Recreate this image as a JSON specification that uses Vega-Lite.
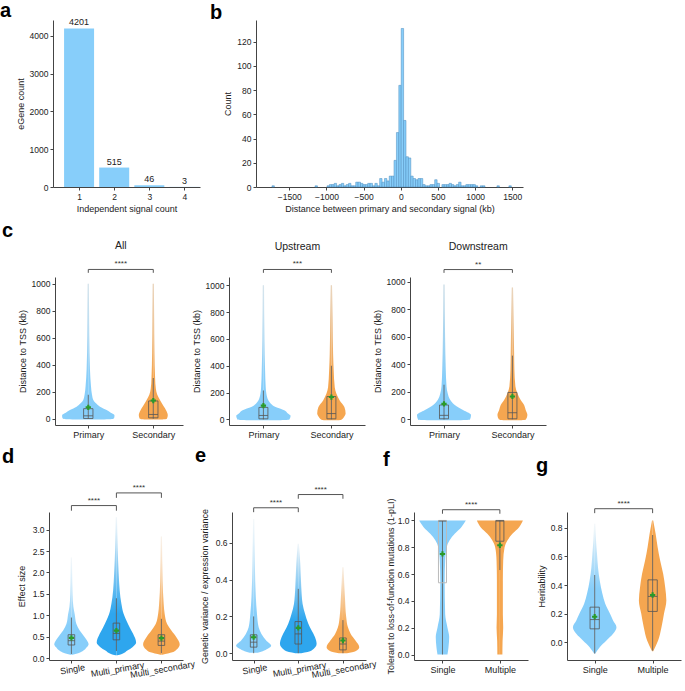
{
"$schema":"https://vega.github.io/schema/vega-lite/v6.json",
"background":"white",
"padding":{"left":0,"top":1,"right":5,"bottom":5},
"config":{
 "font":"Liberation Sans",
 "view":{"stroke":null},
 "axis":{"grid":false,"domainColor":"#444","tickColor":"#444","labelColor":"#222","titleColor":"#222","labelFontSize":8.5,"titleFontSize":9,"titleFontWeight":"normal","tickSize":3,"labelPadding":2,"titlePadding":4,"labelOverlap":false,"labelFlush":false},
 "title":{"fontSize":20,"fontWeight":"bold","anchor":"start","frame":"group","color":"#000","baseline":"alphabetic"}
},
"datasets":{
 "bars":[{"n":1,"count":4201},{"n":2,"count":515},{"n":3,"count":46},{"n":4,"count":3}],
 "hist":[{"s":-1740,"n":1},{"s":-1160.4,"n":1},{"s":-999.4,"n":1},{"s":-967.2,"n":2},{"s":-935,"n":2},{"s":-902.8,"n":3},{"s":-870.6,"n":1},{"s":-838.4,"n":2},{"s":-806.2,"n":3},{"s":-774,"n":1},{"s":-741.8,"n":2},{"s":-709.6,"n":3},{"s":-677.4,"n":1},{"s":-645.2,"n":1},{"s":-613,"n":4},{"s":-580.8,"n":4},{"s":-548.6,"n":3},{"s":-516.4,"n":2},{"s":-484.2,"n":2},{"s":-452,"n":3},{"s":-419.8,"n":3},{"s":-387.6,"n":1},{"s":-355.4,"n":3},{"s":-323.2,"n":1},{"s":-291,"n":7},{"s":-258.8,"n":4},{"s":-226.6,"n":7},{"s":-194.4,"n":5},{"s":-162.2,"n":9},{"s":-130,"n":9},{"s":-97.8,"n":22},{"s":-65.6,"n":45},{"s":-33.4,"n":84},{"s":-1.2,"n":131},{"s":31,"n":55},{"s":63.2,"n":25},{"s":95.4,"n":24},{"s":127.6,"n":9},{"s":159.8,"n":7},{"s":192,"n":6},{"s":224.2,"n":7},{"s":256.4,"n":7},{"s":288.6,"n":2},{"s":320.8,"n":1},{"s":353,"n":1},{"s":385.2,"n":2},{"s":417.4,"n":2},{"s":449.6,"n":6},{"s":481.8,"n":3},{"s":546.2,"n":2},{"s":578.4,"n":2},{"s":610.6,"n":2},{"s":642.8,"n":3},{"s":675,"n":2},{"s":707.2,"n":1},{"s":739.4,"n":2},{"s":771.6,"n":4},{"s":803.8,"n":1},{"s":836,"n":1},{"s":868.2,"n":2},{"s":900.4,"n":2},{"s":932.6,"n":2},{"s":964.8,"n":2},{"s":997,"n":1},{"s":1061.4,"n":1},{"s":1093.6,"n":1},{"s":1286.8,"n":1},{"s":1447.8,"n":1}],
 "vio":[
  {"p":"c1","c":0,"v":-6,"w":0.154},{"p":"c1","c":0,"v":-4,"w":0.308},{"p":"c1","c":0,"v":0,"w":0.385},{"p":"c1","c":0,"v":10,"w":0.4},{"p":"c1","c":0,"v":27,"w":0.403},{"p":"c1","c":0,"v":45,"w":0.346},{"p":"c1","c":0,"v":65,"w":0.282},{"p":"c1","c":0,"v":90,"w":0.18},{"p":"c1","c":0,"v":115,"w":0.118},{"p":"c1","c":0,"v":140,"w":0.077},{"p":"c1","c":0,"v":178,"w":0.057},{"p":"c1","c":0,"v":240,"w":0.042},{"p":"c1","c":0,"v":365,"w":0.026},{"p":"c1","c":0,"v":615,"w":0.015},{"p":"c1","c":0,"v":800,"w":0.012},{"p":"c1","c":0,"v":1000,"w":0.009},
  {"p":"c1","c":1,"v":-6,"w":0.108},{"p":"c1","c":1,"v":-4,"w":0.169},{"p":"c1","c":1,"v":0,"w":0.208},{"p":"c1","c":1,"v":27,"w":0.223},{"p":"c1","c":1,"v":60,"w":0.2},{"p":"c1","c":1,"v":95,"w":0.157},{"p":"c1","c":1,"v":125,"w":0.12},{"p":"c1","c":1,"v":150,"w":0.09},{"p":"c1","c":1,"v":180,"w":0.06},{"p":"c1","c":1,"v":220,"w":0.04},{"p":"c1","c":1,"v":300,"w":0.028},{"p":"c1","c":1,"v":490,"w":0.018},{"p":"c1","c":1,"v":750,"w":0.013},{"p":"c1","c":1,"v":1000,"w":0.009},
  {"p":"c2","c":0,"v":-6,"w":0.162},{"p":"c2","c":0,"v":-4,"w":0.309},{"p":"c2","c":0,"v":0,"w":0.382},{"p":"c2","c":0,"v":27,"w":0.4},{"p":"c2","c":0,"v":45,"w":0.36},{"p":"c2","c":0,"v":69,"w":0.306},{"p":"c2","c":0,"v":93,"w":0.179},{"p":"c2","c":0,"v":118,"w":0.11},{"p":"c2","c":0,"v":142,"w":0.074},{"p":"c2","c":0,"v":191,"w":0.044},{"p":"c2","c":0,"v":240,"w":0.034},{"p":"c2","c":0,"v":363,"w":0.025},{"p":"c2","c":0,"v":600,"w":0.015},{"p":"c2","c":0,"v":1000,"w":0.009},
  {"p":"c2","c":1,"v":-6,"w":0.088},{"p":"c2","c":1,"v":-4,"w":0.132},{"p":"c2","c":1,"v":0,"w":0.151},{"p":"c2","c":1,"v":20,"w":0.187},{"p":"c2","c":1,"v":44,"w":0.209},{"p":"c2","c":1,"v":93,"w":0.191},{"p":"c2","c":1,"v":142,"w":0.122},{"p":"c2","c":1,"v":191,"w":0.074},{"p":"c2","c":1,"v":240,"w":0.049},{"p":"c2","c":1,"v":363,"w":0.034},{"p":"c2","c":1,"v":485,"w":0.025},{"p":"c2","c":1,"v":730,"w":0.018},{"p":"c2","c":1,"v":1000,"w":0.009},
  {"p":"c3","c":0,"v":-6,"w":0.161},{"p":"c3","c":0,"v":-4,"w":0.307},{"p":"c3","c":0,"v":0,"w":0.38},{"p":"c3","c":0,"v":32,"w":0.395},{"p":"c3","c":0,"v":50,"w":0.351},{"p":"c3","c":0,"v":69,"w":0.278},{"p":"c3","c":0,"v":105,"w":0.158},{"p":"c3","c":0,"v":142,"w":0.092},{"p":"c3","c":0,"v":191,"w":0.054},{"p":"c3","c":0,"v":240,"w":0.037},{"p":"c3","c":0,"v":363,"w":0.026},{"p":"c3","c":0,"v":600,"w":0.016},{"p":"c3","c":0,"v":978,"w":0.009},
  {"p":"c3","c":1,"v":-6,"w":0.102},{"p":"c3","c":1,"v":-4,"w":0.161},{"p":"c3","c":1,"v":0,"w":0.197},{"p":"c3","c":1,"v":32,"w":0.219},{"p":"c3","c":1,"v":69,"w":0.194},{"p":"c3","c":1,"v":105,"w":0.171},{"p":"c3","c":1,"v":142,"w":0.121},{"p":"c3","c":1,"v":191,"w":0.073},{"p":"c3","c":1,"v":240,"w":0.044},{"p":"c3","c":1,"v":363,"w":0.029},{"p":"c3","c":1,"v":485,"w":0.025},{"p":"c3","c":1,"v":700,"w":0.018},{"p":"c3","c":1,"v":957,"w":0.009},
  {"p":"d","c":0,"v":0.085,"w":0.022},{"p":"d","c":0,"v":0.116,"w":0.149},{"p":"d","c":0,"v":0.18,"w":0.267},{"p":"d","c":0,"v":0.256,"w":0.34},{"p":"d","c":0,"v":0.33,"w":0.382},{"p":"d","c":0,"v":0.4,"w":0.356},{"p":"d","c":0,"v":0.49,"w":0.296},{"p":"d","c":0,"v":0.645,"w":0.184},{"p":"d","c":0,"v":0.8,"w":0.111},{"p":"d","c":0,"v":1.03,"w":0.073},{"p":"d","c":0,"v":1.2,"w":0.044},{"p":"d","c":0,"v":1.5,"w":0.025},{"p":"d","c":0,"v":2.0,"w":0.016},{"p":"d","c":0,"v":2.35,"w":0.013},
  {"p":"d","c":1,"v":0.07,"w":0.022},{"p":"d","c":1,"v":0.1,"w":0.122},{"p":"d","c":1,"v":0.18,"w":0.244},{"p":"d","c":1,"v":0.26,"w":0.356},{"p":"d","c":1,"v":0.37,"w":0.438},{"p":"d","c":1,"v":0.57,"w":0.371},{"p":"d","c":1,"v":0.72,"w":0.296},{"p":"d","c":1,"v":0.88,"w":0.222},{"p":"d","c":1,"v":1.03,"w":0.162},{"p":"d","c":1,"v":1.27,"w":0.111},{"p":"d","c":1,"v":1.58,"w":0.073},{"p":"d","c":1,"v":1.97,"w":0.051},{"p":"d","c":1,"v":2.59,"w":0.027},{"p":"d","c":1,"v":3.29,"w":0.013},
  {"p":"d","c":2,"v":0.085,"w":0.022},{"p":"d","c":2,"v":0.14,"w":0.244},{"p":"d","c":2,"v":0.2,"w":0.333},{"p":"d","c":2,"v":0.33,"w":0.407},{"p":"d","c":2,"v":0.49,"w":0.333},{"p":"d","c":2,"v":0.645,"w":0.222},{"p":"d","c":2,"v":0.8,"w":0.127},{"p":"d","c":2,"v":1.03,"w":0.073},{"p":"d","c":2,"v":1.27,"w":0.051},{"p":"d","c":2,"v":1.8,"w":0.027},{"p":"d","c":2,"v":2.84,"w":0.013},
  {"p":"e","c":0,"v":0.003,"w":0.09},{"p":"e","c":0,"v":0.011,"w":0.202},{"p":"e","c":0,"v":0.024,"w":0.315},{"p":"e","c":0,"v":0.04,"w":0.393},{"p":"e","c":0,"v":0.069,"w":0.281},{"p":"e","c":0,"v":0.105,"w":0.175},{"p":"e","c":0,"v":0.141,"w":0.112},{"p":"e","c":0,"v":0.214,"w":0.074},{"p":"e","c":0,"v":0.305,"w":0.049},{"p":"e","c":0,"v":0.486,"w":0.027},{"p":"e","c":0,"v":0.73,"w":0.013},
  {"p":"e","c":1,"v":0.0,"w":0.067},{"p":"e","c":1,"v":0.015,"w":0.299},{"p":"e","c":1,"v":0.051,"w":0.411},{"p":"e","c":1,"v":0.087,"w":0.375},{"p":"e","c":1,"v":0.123,"w":0.299},{"p":"e","c":1,"v":0.16,"w":0.225},{"p":"e","c":1,"v":0.214,"w":0.151},{"p":"e","c":1,"v":0.268,"w":0.097},{"p":"e","c":1,"v":0.359,"w":0.067},{"p":"e","c":1,"v":0.486,"w":0.045},{"p":"e","c":1,"v":0.595,"w":0.013},
  {"p":"e","c":2,"v":0.0,"w":0.09},{"p":"e","c":2,"v":0.011,"w":0.281},{"p":"e","c":2,"v":0.033,"w":0.366},{"p":"e","c":2,"v":0.069,"w":0.281},{"p":"e","c":2,"v":0.105,"w":0.175},{"p":"e","c":2,"v":0.141,"w":0.112},{"p":"e","c":2,"v":0.196,"w":0.074},{"p":"e","c":2,"v":0.305,"w":0.045},{"p":"e","c":2,"v":0.468,"w":0.013},
  {"p":"f","c":0,"v":0.0,"w":0.087},{"p":"f","c":0,"v":0.055,"w":0.105},{"p":"f","c":0,"v":0.13,"w":0.117},{"p":"f","c":0,"v":0.2,"w":0.087},{"p":"f","c":0,"v":0.3,"w":0.047},{"p":"f","c":0,"v":0.55,"w":0.038},{"p":"f","c":0,"v":0.7,"w":0.047},{"p":"f","c":0,"v":0.8,"w":0.073},{"p":"f","c":0,"v":0.85,"w":0.122},{"p":"f","c":0,"v":0.9,"w":0.213},{"p":"f","c":0,"v":0.95,"w":0.328},{"p":"f","c":0,"v":1.0,"w":0.407},
  {"p":"f","c":1,"v":0.0,"w":0.044},{"p":"f","c":1,"v":0.1,"w":0.047},{"p":"f","c":1,"v":0.2,"w":0.058},{"p":"f","c":1,"v":0.3,"w":0.052},{"p":"f","c":1,"v":0.55,"w":0.052},{"p":"f","c":1,"v":0.7,"w":0.058},{"p":"f","c":1,"v":0.8,"w":0.082},{"p":"f","c":1,"v":0.85,"w":0.131},{"p":"f","c":1,"v":0.9,"w":0.218},{"p":"f","c":1,"v":0.95,"w":0.335},{"p":"f","c":1,"v":1.0,"w":0.401},
  {"p":"g","c":0,"v":-0.08,"w":0.01},{"p":"g","c":0,"v":-0.035,"w":0.087},{"p":"g","c":0,"v":0.012,"w":0.203},{"p":"g","c":0,"v":0.058,"w":0.317},{"p":"g","c":0,"v":0.105,"w":0.376},{"p":"g","c":0,"v":0.152,"w":0.317},{"p":"g","c":0,"v":0.198,"w":0.265},{"p":"g","c":0,"v":0.268,"w":0.182},{"p":"g","c":0,"v":0.338,"w":0.133},{"p":"g","c":0,"v":0.431,"w":0.087},{"p":"g","c":0,"v":0.525,"w":0.057},{"p":"g","c":0,"v":0.618,"w":0.04},{"p":"g","c":0,"v":0.711,"w":0.023},{"p":"g","c":0,"v":0.828,"w":0.01},
  {"p":"g","c":1,"v":-0.063,"w":0.01},{"p":"g","c":1,"v":0.012,"w":0.095},{"p":"g","c":1,"v":0.105,"w":0.153},{"p":"g","c":1,"v":0.198,"w":0.196},{"p":"g","c":1,"v":0.291,"w":0.237},{"p":"g","c":1,"v":0.385,"w":0.217},{"p":"g","c":1,"v":0.478,"w":0.182},{"p":"g","c":1,"v":0.571,"w":0.13},{"p":"g","c":1,"v":0.665,"w":0.087},{"p":"g","c":1,"v":0.758,"w":0.052},{"p":"g","c":1,"v":0.851,"w":0.01}
 ],
 "st":[
  {"p":"c1","c":0,"q1":2,"md":22,"q3":75,"lo":0,"hi":178,"mn":85},
  {"p":"c1","c":1,"q1":7,"md":32,"q3":132,"lo":0,"hi":302,"mn":135},
  {"p":"c2","c":0,"q1":5,"md":30,"q3":90,"lo":0,"hi":216,"mn":103},
  {"p":"c2","c":1,"q1":5,"md":44,"q3":171,"lo":0,"hi":400,"mn":167},
  {"p":"c3","c":0,"q1":5,"md":30,"q3":105,"lo":0,"hi":252,"mn":113},
  {"p":"c3","c":1,"q1":5,"md":49,"q3":196,"lo":0,"hi":463,"mn":167},
  {"p":"d","c":0,"q1":0.31,"md":0.41,"q3":0.55,"lo":0.1,"hi":0.95,"mn":0.475},
  {"p":"d","c":1,"q1":0.43,"md":0.58,"q3":0.82,"lo":0.17,"hi":1.4,"mn":0.645},
  {"p":"d","c":2,"q1":0.3,"md":0.4,"q3":0.55,"lo":0.12,"hi":0.92,"mn":0.47},
  {"p":"e","c":0,"q1":0.033,"md":0.06,"q3":0.1,"lo":0.0,"hi":0.2,"mn":0.087},
  {"p":"e","c":1,"q1":0.05,"md":0.105,"q3":0.172,"lo":0.0,"hi":0.35,"mn":0.138},
  {"p":"e","c":2,"q1":0.018,"md":0.05,"q3":0.083,"lo":0.0,"hi":0.18,"mn":0.069},
  {"p":"f","c":0,"q1":0.535,"md":0.995,"q3":1.0,"lo":0.0,"hi":1.0,"mn":0.75},
  {"p":"f","c":1,"q1":0.845,"md":0.995,"q3":1.0,"lo":0.63,"hi":1.0,"mn":0.815},
  {"p":"g","c":0,"q1":0.093,"md":0.158,"q3":0.245,"lo":-0.08,"hi":0.47,"mn":0.178},
  {"p":"g","c":1,"q1":0.215,"md":0.32,"q3":0.436,"lo":-0.06,"hi":0.75,"mn":0.33}
 ]
},
"spacing":6,
"vconcat":[
{"hconcat":[
 {"width":4.7,"height":1,"data":{"values":[]},"mark":"point","encoding":{}},
 {"width":147,"height":167,"title":{"text":"a","dx":-53,"offset":-2.7},"data":{"name":"bars"},
  "encoding":{"x":{"field":"n","type":"quantitative","scale":{"domain":[0.4,4.3],"nice":false,"zero":false},"axis":{"values":[1,2,3,4],"format":"d","title":"Independent signal count"}},
   "y":{"field":"count","type":"quantitative","scale":{"domain":[0,4423],"nice":false},"axis":{"values":[0,1000,2000,3000,4000],"format":"d","title":"eGene count"}}},
  "layer":[
   {"mark":{"type":"bar","width":30,"color":"#87cefa"}},
   {"mark":{"type":"text","baseline":"bottom","dy":-1,"fontSize":9,"color":"#222"},"encoding":{"text":{"field":"count","type":"quantitative","format":"d"}}}
  ]},
 {"width":55.7,"height":1,"data":{"values":[]},"mark":"point","encoding":{}},
 {"width":267,"height":167,"title":{"text":"b","dx":-46,"offset":-2.7},"data":{"name":"hist"},
  "mark":{"type":"bar","color":"#87cefa","stroke":"#4b8bbd","strokeWidth":0.5,"binSpacing":0},
  "encoding":{"x":{"field":"s","type":"quantitative","bin":{"binned":true,"step":32.2},"scale":{"domain":[-1948,1644],"nice":false,"zero":false},"axis":{"values":[-1500,-1000,-500,0,500,1000,1500],"format":"d","title":"Distance between primary and secondary signal (kb)"}},
   "y":{"field":"n","type":"quantitative","scale":{"domain":[0,138],"nice":false},"axis":{"values":[0,20,40,60,80,100,120],"title":"Count"}}}}
],"spacing":0,"bounds":"flush"},
{"hconcat":[
 {"width":6.7,"height":1,"data":{"values":[]},"mark":"point","encoding":{}},
 {"width":128,"height":148,"title":{"text":"c","dx":-53,"offset":0.5},
  "resolve":{"scale":{"x":"independent"},"axis":{"x":"independent"}},
  "layer":[
   {"data":{"name":"vio"},"transform":[{"filter":"datum.p=='c1'&&datum.c==0"}],"mark":{"type":"area","orient":"horizontal","interpolate":"monotone","color":{"gradient":"linear","x1":0,"y1":1,"x2":0,"y2":0,"stops":[{"offset":0,"color":"#87cefa"},{"offset":0.3,"color":"#87cefa"},{"offset":1,"color":"#c9dbe5"}]}},
    "encoding":{"y":{"field":"v","type":"quantitative","scale":{"domain":[-46,1050],"nice":false,"zero":false},"axis":{"values":[0,200,400,600,800,1000],"tickCount":20,"format":"d","title":"Distance to TSS (kb)"}},"x":{"field":"w","type":"quantitative","stack":null,"scale":{"domain":[-1.457,0.512],"reverse":true,"nice":false,"zero":false},"axis":null}}},
   {"data":{"name":"vio"},"transform":[{"filter":"datum.p=='c1'&&datum.c==1"}],"mark":{"type":"area","orient":"horizontal","interpolate":"monotone","color":{"gradient":"linear","x1":0,"y1":1,"x2":0,"y2":0,"stops":[{"offset":0,"color":"#f5a650"},{"offset":0.3,"color":"#f5a650"},{"offset":1,"color":"#e2c7a8"}]}},
    "encoding":{"y":{"field":"v","type":"quantitative"},"x":{"field":"w","type":"quantitative","stack":null,"scale":{"domain":[-0.457,1.512],"reverse":true,"nice":false,"zero":false},"axis":null}}},
   {"layer":[
    {"data":{"name":"vio"},"transform":[{"filter":"datum.p=='c1'&&datum.c==0"}],"mark":{"type":"area","orient":"horizontal","interpolate":"monotone","color":{"gradient":"linear","x1":0,"y1":1,"x2":0,"y2":0,"stops":[{"offset":0,"color":"#87cefa"},{"offset":0.3,"color":"#87cefa"},{"offset":1,"color":"#c9dbe5"}]}},
     "encoding":{"y":{"field":"v","type":"quantitative"},"x":{"field":"w","type":"quantitative","stack":null,"scale":{"domain":[-0.512,1.457],"nice":false,"zero":false},"axis":{"values":[0,1],"labelExpr":"datum.value==0?'Primary':'Secondary'","labelFontSize":9,"title":null}}}},
    {"data":{"name":"st"},"transform":[{"filter":"datum.p=='c1'&&datum.c==0"}],"mark":{"type":"rule","color":"#555","strokeWidth":0.8},"encoding":{"x":{"datum":0},"y":{"field":"lo","type":"quantitative"},"y2":{"field":"hi"}}},
    {"data":{"name":"st"},"transform":[{"filter":"datum.p=='c1'&&datum.c==0"}],"mark":{"type":"rect","fill":"transparent","stroke":"#555","strokeWidth":0.8},"encoding":{"x":{"datum":-0.072},"x2":{"datum":0.072},"y":{"field":"q1","type":"quantitative"},"y2":{"field":"q3"}}},
    {"data":{"name":"st"},"transform":[{"filter":"datum.p=='c1'&&datum.c==0"}],"mark":{"type":"rule","color":"#555","strokeWidth":0.8},"encoding":{"x":{"datum":-0.072},"x2":{"datum":0.072},"y":{"field":"md","type":"quantitative"}}},
    {"data":{"name":"st"},"transform":[{"filter":"datum.p=='c1'&&datum.c==0"}],"mark":{"type":"point","shape":"cross","filled":true,"color":"#2a9a2a","size":28,"opacity":1},"encoding":{"x":{"datum":0},"y":{"field":"mn","type":"quantitative"}}},
    {"data":{"values":[{}]},"mark":{"type":"rule","color":"#555","strokeWidth":1},"encoding":{"x":{"datum":0},"x2":{"datum":1},"y":{"datum":1106}}},
    {"data":{"values":[{}]},"mark":{"type":"rule","color":"#555","strokeWidth":1},"encoding":{"x":{"datum":0},"y":{"datum":1106},"y2":{"datum":1081}}},
    {"data":{"values":[{}]},"mark":{"type":"rule","color":"#555","strokeWidth":1},"encoding":{"x":{"datum":1},"y":{"datum":1106},"y2":{"datum":1081}}},
    {"data":{"values":[{}]},"mark":{"type":"text","text":"****","fontSize":8,"baseline":"bottom","dy":-1,"color":"#333"},"encoding":{"x":{"datum":0.5},"y":{"datum":1106}}},
    {"data":{"values":[{}]},"mark":{"type":"text","text":"All","fontSize":10.5,"baseline":"middle","color":"#222"},"encoding":{"x":{"datum":0.5},"y":{"datum":1276}}}
   ]},
   {"layer":[
    {"data":{"name":"vio"},"transform":[{"filter":"datum.p=='c1'&&datum.c==1"}],"mark":{"type":"area","orient":"horizontal","interpolate":"monotone","color":{"gradient":"linear","x1":0,"y1":1,"x2":0,"y2":0,"stops":[{"offset":0,"color":"#f5a650"},{"offset":0.3,"color":"#f5a650"},{"offset":1,"color":"#e2c7a8"}]}},
     "encoding":{"y":{"field":"v","type":"quantitative"},"x":{"field":"w","type":"quantitative","stack":null,"scale":{"domain":[-1.512,0.457],"nice":false,"zero":false},"axis":null}}},
    {"data":{"name":"st"},"transform":[{"filter":"datum.p=='c1'&&datum.c==1"}],"mark":{"type":"rule","color":"#555","strokeWidth":0.8},"encoding":{"x":{"datum":0,"axis":null},"y":{"field":"lo","type":"quantitative"},"y2":{"field":"hi"}}},
    {"data":{"name":"st"},"transform":[{"filter":"datum.p=='c1'&&datum.c==1"}],"mark":{"type":"rect","fill":"transparent","stroke":"#555","strokeWidth":0.8},"encoding":{"x":{"datum":-0.072,"axis":null},"x2":{"datum":0.072},"y":{"field":"q1","type":"quantitative"},"y2":{"field":"q3"}}},
    {"data":{"name":"st"},"transform":[{"filter":"datum.p=='c1'&&datum.c==1"}],"mark":{"type":"rule","color":"#555","strokeWidth":0.8},"encoding":{"x":{"datum":-0.072,"axis":null},"x2":{"datum":0.072},"y":{"field":"md","type":"quantitative"}}},
    {"data":{"name":"st"},"transform":[{"filter":"datum.p=='c1'&&datum.c==1"}],"mark":{"type":"point","shape":"cross","filled":true,"color":"#2a9a2a","size":28,"opacity":1},"encoding":{"x":{"datum":0,"axis":null},"y":{"field":"mn","type":"quantitative"}}}
   ]}
  ]},
 {"width":45.3,"height":1,"data":{"values":[]},"mark":"point","encoding":{}},
 {"width":136,"height":148,
  "resolve":{"scale":{"x":"independent"},"axis":{"x":"independent"}},
  "layer":[
   {"data":{"name":"vio"},"transform":[{"filter":"datum.p=='c2'&&datum.c==0"}],"mark":{"type":"area","orient":"horizontal","interpolate":"monotone","color":{"gradient":"linear","x1":0,"y1":1,"x2":0,"y2":0,"stops":[{"offset":0,"color":"#87cefa"},{"offset":0.3,"color":"#87cefa"},{"offset":1,"color":"#c9dbe5"}]}},
    "encoding":{"y":{"field":"v","type":"quantitative","scale":{"domain":[-41,1061],"nice":false,"zero":false},"axis":{"values":[0,200,400,600,800,1000],"tickCount":20,"format":"d","title":"Distance to TSS (kb)"}},"x":{"field":"w","type":"quantitative","stack":null,"scale":{"domain":[-1.494,0.506],"reverse":true,"nice":false,"zero":false},"axis":null}}},
   {"data":{"name":"vio"},"transform":[{"filter":"datum.p=='c2'&&datum.c==1"}],"mark":{"type":"area","orient":"horizontal","interpolate":"monotone","color":{"gradient":"linear","x1":0,"y1":1,"x2":0,"y2":0,"stops":[{"offset":0,"color":"#f5a650"},{"offset":0.3,"color":"#f5a650"},{"offset":1,"color":"#e2c7a8"}]}},
    "encoding":{"y":{"field":"v","type":"quantitative"},"x":{"field":"w","type":"quantitative","stack":null,"scale":{"domain":[-0.494,1.506],"reverse":true,"nice":false,"zero":false},"axis":null}}},
   {"layer":[
    {"data":{"name":"vio"},"transform":[{"filter":"datum.p=='c2'&&datum.c==0"}],"mark":{"type":"area","orient":"horizontal","interpolate":"monotone","color":{"gradient":"linear","x1":0,"y1":1,"x2":0,"y2":0,"stops":[{"offset":0,"color":"#87cefa"},{"offset":0.3,"color":"#87cefa"},{"offset":1,"color":"#c9dbe5"}]}},
     "encoding":{"y":{"field":"v","type":"quantitative"},"x":{"field":"w","type":"quantitative","stack":null,"scale":{"domain":[-0.506,1.494],"nice":false,"zero":false},"axis":{"values":[0,1],"labelExpr":"datum.value==0?'Primary':'Secondary'","labelFontSize":9,"title":null}}}},
    {"data":{"name":"st"},"transform":[{"filter":"datum.p=='c2'&&datum.c==0"}],"mark":{"type":"rule","color":"#555","strokeWidth":0.8},"encoding":{"x":{"datum":0},"y":{"field":"lo","type":"quantitative"},"y2":{"field":"hi"}}},
    {"data":{"name":"st"},"transform":[{"filter":"datum.p=='c2'&&datum.c==0"}],"mark":{"type":"rect","fill":"transparent","stroke":"#555","strokeWidth":0.8},"encoding":{"x":{"datum":-0.066},"x2":{"datum":0.066},"y":{"field":"q1","type":"quantitative"},"y2":{"field":"q3"}}},
    {"data":{"name":"st"},"transform":[{"filter":"datum.p=='c2'&&datum.c==0"}],"mark":{"type":"rule","color":"#555","strokeWidth":0.8},"encoding":{"x":{"datum":-0.066},"x2":{"datum":0.066},"y":{"field":"md","type":"quantitative"}}},
    {"data":{"name":"st"},"transform":[{"filter":"datum.p=='c2'&&datum.c==0"}],"mark":{"type":"point","shape":"cross","filled":true,"color":"#2a9a2a","size":28,"opacity":1},"encoding":{"x":{"datum":0},"y":{"field":"mn","type":"quantitative"}}},
    {"data":{"values":[{}]},"mark":{"type":"rule","color":"#555","strokeWidth":1},"encoding":{"x":{"datum":0},"x2":{"datum":1},"y":{"datum":1117}}},
    {"data":{"values":[{}]},"mark":{"type":"rule","color":"#555","strokeWidth":1},"encoding":{"x":{"datum":0},"y":{"datum":1117},"y2":{"datum":1092}}},
    {"data":{"values":[{}]},"mark":{"type":"rule","color":"#555","strokeWidth":1},"encoding":{"x":{"datum":1},"y":{"datum":1117},"y2":{"datum":1092}}},
    {"data":{"values":[{}]},"mark":{"type":"text","text":"***","fontSize":8,"baseline":"bottom","dy":-1,"color":"#333"},"encoding":{"x":{"datum":0.5},"y":{"datum":1117}}},
    {"data":{"values":[{}]},"mark":{"type":"text","text":"Upstream","fontSize":10.5,"baseline":"middle","color":"#222"},"encoding":{"x":{"datum":0.5},"y":{"datum":1288}}}
   ]},
   {"layer":[
    {"data":{"name":"vio"},"transform":[{"filter":"datum.p=='c2'&&datum.c==1"}],"mark":{"type":"area","orient":"horizontal","interpolate":"monotone","color":{"gradient":"linear","x1":0,"y1":1,"x2":0,"y2":0,"stops":[{"offset":0,"color":"#f5a650"},{"offset":0.3,"color":"#f5a650"},{"offset":1,"color":"#e2c7a8"}]}},
     "encoding":{"y":{"field":"v","type":"quantitative"},"x":{"field":"w","type":"quantitative","stack":null,"scale":{"domain":[-1.506,0.494],"nice":false,"zero":false},"axis":null}}},
    {"data":{"name":"st"},"transform":[{"filter":"datum.p=='c2'&&datum.c==1"}],"mark":{"type":"rule","color":"#555","strokeWidth":0.8},"encoding":{"x":{"datum":0,"axis":null},"y":{"field":"lo","type":"quantitative"},"y2":{"field":"hi"}}},
    {"data":{"name":"st"},"transform":[{"filter":"datum.p=='c2'&&datum.c==1"}],"mark":{"type":"rect","fill":"transparent","stroke":"#555","strokeWidth":0.8},"encoding":{"x":{"datum":-0.066,"axis":null},"x2":{"datum":0.066},"y":{"field":"q1","type":"quantitative"},"y2":{"field":"q3"}}},
    {"data":{"name":"st"},"transform":[{"filter":"datum.p=='c2'&&datum.c==1"}],"mark":{"type":"rule","color":"#555","strokeWidth":0.8},"encoding":{"x":{"datum":-0.066,"axis":null},"x2":{"datum":0.066},"y":{"field":"md","type":"quantitative"}}},
    {"data":{"name":"st"},"transform":[{"filter":"datum.p=='c2'&&datum.c==1"}],"mark":{"type":"point","shape":"cross","filled":true,"color":"#2a9a2a","size":28,"opacity":1},"encoding":{"x":{"datum":0,"axis":null},"y":{"field":"mn","type":"quantitative"}}}
   ]}
  ]},
 {"width":45,"height":1,"data":{"values":[]},"mark":"point","encoding":{}},
 {"width":136,"height":148,
  "resolve":{"scale":{"x":"independent"},"axis":{"x":"independent"}},
  "layer":[
   {"data":{"name":"vio"},"transform":[{"filter":"datum.p=='c3'&&datum.c==0"}],"mark":{"type":"area","orient":"horizontal","interpolate":"monotone","color":{"gradient":"linear","x1":0,"y1":1,"x2":0,"y2":0,"stops":[{"offset":0,"color":"#87cefa"},{"offset":0.3,"color":"#87cefa"},{"offset":1,"color":"#c9dbe5"}]}},
    "encoding":{"y":{"field":"v","type":"quantitative","scale":{"domain":[-40,1033],"nice":false,"zero":false},"axis":{"values":[0,200,400,600,800,1000],"tickCount":20,"format":"d","title":"Distance to TES (kb)"}},"x":{"field":"w","type":"quantitative","stack":null,"scale":{"domain":[-1.491,0.497],"reverse":true,"nice":false,"zero":false},"axis":null}}},
   {"data":{"name":"vio"},"transform":[{"filter":"datum.p=='c3'&&datum.c==1"}],"mark":{"type":"area","orient":"horizontal","interpolate":"monotone","color":{"gradient":"linear","x1":0,"y1":1,"x2":0,"y2":0,"stops":[{"offset":0,"color":"#f5a650"},{"offset":0.3,"color":"#f5a650"},{"offset":1,"color":"#e2c7a8"}]}},
    "encoding":{"y":{"field":"v","type":"quantitative"},"x":{"field":"w","type":"quantitative","stack":null,"scale":{"domain":[-0.491,1.497],"reverse":true,"nice":false,"zero":false},"axis":null}}},
   {"layer":[
    {"data":{"name":"vio"},"transform":[{"filter":"datum.p=='c3'&&datum.c==0"}],"mark":{"type":"area","orient":"horizontal","interpolate":"monotone","color":{"gradient":"linear","x1":0,"y1":1,"x2":0,"y2":0,"stops":[{"offset":0,"color":"#87cefa"},{"offset":0.3,"color":"#87cefa"},{"offset":1,"color":"#c9dbe5"}]}},
     "encoding":{"y":{"field":"v","type":"quantitative"},"x":{"field":"w","type":"quantitative","stack":null,"scale":{"domain":[-0.497,1.491],"nice":false,"zero":false},"axis":{"values":[0,1],"labelExpr":"datum.value==0?'Primary':'Secondary'","labelFontSize":9,"title":null}}}},
    {"data":{"name":"st"},"transform":[{"filter":"datum.p=='c3'&&datum.c==0"}],"mark":{"type":"rule","color":"#555","strokeWidth":0.8},"encoding":{"x":{"datum":0},"y":{"field":"lo","type":"quantitative"},"y2":{"field":"hi"}}},
    {"data":{"name":"st"},"transform":[{"filter":"datum.p=='c3'&&datum.c==0"}],"mark":{"type":"rect","fill":"transparent","stroke":"#555","strokeWidth":0.8},"encoding":{"x":{"datum":-0.066},"x2":{"datum":0.066},"y":{"field":"q1","type":"quantitative"},"y2":{"field":"q3"}}},
    {"data":{"name":"st"},"transform":[{"filter":"datum.p=='c3'&&datum.c==0"}],"mark":{"type":"rule","color":"#555","strokeWidth":0.8},"encoding":{"x":{"datum":-0.066},"x2":{"datum":0.066},"y":{"field":"md","type":"quantitative"}}},
    {"data":{"name":"st"},"transform":[{"filter":"datum.p=='c3'&&datum.c==0"}],"mark":{"type":"point","shape":"cross","filled":true,"color":"#2a9a2a","size":28,"opacity":1},"encoding":{"x":{"datum":0},"y":{"field":"mn","type":"quantitative"}}},
    {"data":{"values":[{}]},"mark":{"type":"rule","color":"#555","strokeWidth":1},"encoding":{"x":{"datum":0},"x2":{"datum":1},"y":{"datum":1087}}},
    {"data":{"values":[{}]},"mark":{"type":"rule","color":"#555","strokeWidth":1},"encoding":{"x":{"datum":0},"y":{"datum":1087},"y2":{"datum":1063}}},
    {"data":{"values":[{}]},"mark":{"type":"rule","color":"#555","strokeWidth":1},"encoding":{"x":{"datum":1},"y":{"datum":1087},"y2":{"datum":1063}}},
    {"data":{"values":[{}]},"mark":{"type":"text","text":"**","fontSize":8,"baseline":"bottom","dy":-1,"color":"#333"},"encoding":{"x":{"datum":0.5},"y":{"datum":1087}}},
    {"data":{"values":[{}]},"mark":{"type":"text","text":"Downstream","fontSize":10.5,"baseline":"middle","color":"#222"},"encoding":{"x":{"datum":0.5},"y":{"datum":1254}}}
   ]},
   {"layer":[
    {"data":{"name":"vio"},"transform":[{"filter":"datum.p=='c3'&&datum.c==1"}],"mark":{"type":"area","orient":"horizontal","interpolate":"monotone","color":{"gradient":"linear","x1":0,"y1":1,"x2":0,"y2":0,"stops":[{"offset":0,"color":"#f5a650"},{"offset":0.3,"color":"#f5a650"},{"offset":1,"color":"#e2c7a8"}]}},
     "encoding":{"y":{"field":"v","type":"quantitative"},"x":{"field":"w","type":"quantitative","stack":null,"scale":{"domain":[-1.497,0.491],"nice":false,"zero":false},"axis":null}}},
    {"data":{"name":"st"},"transform":[{"filter":"datum.p=='c3'&&datum.c==1"}],"mark":{"type":"rule","color":"#555","strokeWidth":0.8},"encoding":{"x":{"datum":0,"axis":null},"y":{"field":"lo","type":"quantitative"},"y2":{"field":"hi"}}},
    {"data":{"name":"st"},"transform":[{"filter":"datum.p=='c3'&&datum.c==1"}],"mark":{"type":"rect","fill":"transparent","stroke":"#555","strokeWidth":0.8},"encoding":{"x":{"datum":-0.066,"axis":null},"x2":{"datum":0.066},"y":{"field":"q1","type":"quantitative"},"y2":{"field":"q3"}}},
    {"data":{"name":"st"},"transform":[{"filter":"datum.p=='c3'&&datum.c==1"}],"mark":{"type":"rule","color":"#555","strokeWidth":0.8},"encoding":{"x":{"datum":-0.066,"axis":null},"x2":{"datum":0.066},"y":{"field":"md","type":"quantitative"}}},
    {"data":{"name":"st"},"transform":[{"filter":"datum.p=='c3'&&datum.c==1"}],"mark":{"type":"point","shape":"cross","filled":true,"color":"#2a9a2a","size":28,"opacity":1},"encoding":{"x":{"datum":0,"axis":null},"y":{"field":"mn","type":"quantitative"}}}
   ]}
  ]}
],"spacing":0,"bounds":"flush"},
{"hconcat":[
 {"width":1,"height":1,"data":{"values":[]},"mark":"point","encoding":{}},
 {"width":134,"height":148,"title":{"text":"d","dx":-47,"offset":17},
  "resolve":{"scale":{"x":"independent"},"axis":{"x":"independent"}},
  "layer":[
   {"data":{"name":"vio"},"transform":[{"filter":"datum.p=='d'&&datum.c==0"}],"mark":{"type":"area","orient":"horizontal","interpolate":"monotone","color":{"gradient":"linear","x1":0,"y1":1,"x2":0,"y2":0,"stops":[{"offset":0,"color":"#87cefa"},{"offset":0.3,"color":"#87cefa"},{"offset":1,"color":"#f2f6f8"}]}},
    "encoding":{"y":{"field":"v","type":"quantitative","scale":{"domain":[-0.04,3.41],"nice":false,"zero":false},"axis":{"values":[0,0.5,1,1.5,2,2.5,3],"tickCount":20,"format":".1f","title":"Effect size","titlePadding":6}},"x":{"field":"w","type":"quantitative","stack":null,"scale":{"domain":[-2.48,0.498],"reverse":true,"nice":false,"zero":false},"axis":null}}},
   {"data":{"name":"vio"},"transform":[{"filter":"datum.p=='d'&&datum.c==1"}],"mark":{"type":"area","orient":"horizontal","interpolate":"monotone","color":{"gradient":"linear","x1":0,"y1":1,"x2":0,"y2":0,"stops":[{"offset":0,"color":"#2ea6ee"},{"offset":0.3,"color":"#2ea6ee"},{"offset":1,"color":"#eef4f8"}]}},
    "encoding":{"y":{"field":"v","type":"quantitative"},"x":{"field":"w","type":"quantitative","stack":null,"scale":{"domain":[-1.48,1.498],"reverse":true,"nice":false,"zero":false},"axis":null}}},
   {"data":{"name":"vio"},"transform":[{"filter":"datum.p=='d'&&datum.c==2"}],"mark":{"type":"area","orient":"horizontal","interpolate":"monotone","color":{"gradient":"linear","x1":0,"y1":1,"x2":0,"y2":0,"stops":[{"offset":0,"color":"#f5a650"},{"offset":0.3,"color":"#f5a650"},{"offset":1,"color":"#f7efe6"}]}},
    "encoding":{"y":{"field":"v","type":"quantitative"},"x":{"field":"w","type":"quantitative","stack":null,"scale":{"domain":[-0.48,2.498],"reverse":true,"nice":false,"zero":false},"axis":null}}},
   {"layer":[
    {"data":{"name":"vio"},"transform":[{"filter":"datum.p=='d'&&datum.c==0"}],"mark":{"type":"area","orient":"horizontal","interpolate":"monotone","color":{"gradient":"linear","x1":0,"y1":1,"x2":0,"y2":0,"stops":[{"offset":0,"color":"#87cefa"},{"offset":0.3,"color":"#87cefa"},{"offset":1,"color":"#f2f6f8"}]}},
     "encoding":{"y":{"field":"v","type":"quantitative"},"x":{"field":"w","type":"quantitative","stack":null,"scale":{"domain":[-0.498,2.48],"nice":false,"zero":false},"axis":{"values":[0,1,2],"labelExpr":"['Single','Multi_primary','Multi_secondary'][datum.value]","labelAngle":-10,"labelAlign":"center","labelBaseline":"top","labelFontSize":9,"title":null}}}},
    {"data":{"name":"st"},"transform":[{"filter":"datum.p=='d'&&datum.c==0"}],"mark":{"type":"rule","color":"#555","strokeWidth":0.8},"encoding":{"x":{"datum":0},"y":{"field":"lo","type":"quantitative"},"y2":{"field":"hi"}}},
    {"data":{"name":"st"},"transform":[{"filter":"datum.p=='d'&&datum.c==0"}],"mark":{"type":"rect","fill":"transparent","stroke":"#555","strokeWidth":0.8},"encoding":{"x":{"datum":-0.073},"x2":{"datum":0.073},"y":{"field":"q1","type":"quantitative"},"y2":{"field":"q3"}}},
    {"data":{"name":"st"},"transform":[{"filter":"datum.p=='d'&&datum.c==0"}],"mark":{"type":"rule","color":"#555","strokeWidth":0.8},"encoding":{"x":{"datum":-0.073},"x2":{"datum":0.073},"y":{"field":"md","type":"quantitative"}}},
    {"data":{"name":"st"},"transform":[{"filter":"datum.p=='d'&&datum.c==0"}],"mark":{"type":"point","shape":"cross","filled":true,"color":"#2a9a2a","size":28,"opacity":1},"encoding":{"x":{"datum":0},"y":{"field":"mn","type":"quantitative"}}},
    {"data":{"values":[{}]},"mark":{"type":"rule","color":"#555","strokeWidth":1},"encoding":{"x":{"datum":0},"x2":{"datum":1},"y":{"datum":3.56}}},
    {"data":{"values":[{}]},"mark":{"type":"rule","color":"#555","strokeWidth":1},"encoding":{"x":{"datum":0},"y":{"datum":3.56},"y2":{"datum":3.44}}},
    {"data":{"values":[{}]},"mark":{"type":"rule","color":"#555","strokeWidth":1},"encoding":{"x":{"datum":1},"y":{"datum":3.56},"y2":{"datum":3.44}}},
    {"data":{"values":[{}]},"mark":{"type":"text","text":"****","fontSize":8,"baseline":"bottom","dy":-1,"color":"#333"},"encoding":{"x":{"datum":0.5},"y":{"datum":3.56}}},
    {"data":{"values":[{}]},"mark":{"type":"rule","color":"#555","strokeWidth":1},"encoding":{"x":{"datum":1},"x2":{"datum":2},"y":{"datum":3.855}}},
    {"data":{"values":[{}]},"mark":{"type":"rule","color":"#555","strokeWidth":1},"encoding":{"x":{"datum":1},"y":{"datum":3.855},"y2":{"datum":3.74}}},
    {"data":{"values":[{}]},"mark":{"type":"rule","color":"#555","strokeWidth":1},"encoding":{"x":{"datum":2},"y":{"datum":3.855},"y2":{"datum":3.74}}},
    {"data":{"values":[{}]},"mark":{"type":"text","text":"****","fontSize":8,"baseline":"bottom","dy":-1,"color":"#333"},"encoding":{"x":{"datum":1.5},"y":{"datum":3.855}}}
   ]},
   {"layer":[
    {"data":{"name":"vio"},"transform":[{"filter":"datum.p=='d'&&datum.c==1"}],"mark":{"type":"area","orient":"horizontal","interpolate":"monotone","color":{"gradient":"linear","x1":0,"y1":1,"x2":0,"y2":0,"stops":[{"offset":0,"color":"#2ea6ee"},{"offset":0.3,"color":"#2ea6ee"},{"offset":1,"color":"#eef4f8"}]}},
     "encoding":{"y":{"field":"v","type":"quantitative"},"x":{"field":"w","type":"quantitative","stack":null,"scale":{"domain":[-1.498,1.48],"nice":false,"zero":false},"axis":null}}},
    {"data":{"name":"st"},"transform":[{"filter":"datum.p=='d'&&datum.c==1"}],"mark":{"type":"rule","color":"#555","strokeWidth":0.8},"encoding":{"x":{"datum":0,"axis":null},"y":{"field":"lo","type":"quantitative"},"y2":{"field":"hi"}}},
    {"data":{"name":"st"},"transform":[{"filter":"datum.p=='d'&&datum.c==1"}],"mark":{"type":"rect","fill":"transparent","stroke":"#555","strokeWidth":0.8},"encoding":{"x":{"datum":-0.073,"axis":null},"x2":{"datum":0.073},"y":{"field":"q1","type":"quantitative"},"y2":{"field":"q3"}}},
    {"data":{"name":"st"},"transform":[{"filter":"datum.p=='d'&&datum.c==1"}],"mark":{"type":"rule","color":"#555","strokeWidth":0.8},"encoding":{"x":{"datum":-0.073,"axis":null},"x2":{"datum":0.073},"y":{"field":"md","type":"quantitative"}}},
    {"data":{"name":"st"},"transform":[{"filter":"datum.p=='d'&&datum.c==1"}],"mark":{"type":"point","shape":"cross","filled":true,"color":"#2a9a2a","size":28,"opacity":1},"encoding":{"x":{"datum":0,"axis":null},"y":{"field":"mn","type":"quantitative"}}}
   ]},
   {"layer":[
    {"data":{"name":"vio"},"transform":[{"filter":"datum.p=='d'&&datum.c==2"}],"mark":{"type":"area","orient":"horizontal","interpolate":"monotone","color":{"gradient":"linear","x1":0,"y1":1,"x2":0,"y2":0,"stops":[{"offset":0,"color":"#f5a650"},{"offset":0.3,"color":"#f5a650"},{"offset":1,"color":"#f7efe6"}]}},
     "encoding":{"y":{"field":"v","type":"quantitative"},"x":{"field":"w","type":"quantitative","stack":null,"scale":{"domain":[-2.498,0.48],"nice":false,"zero":false},"axis":null}}},
    {"data":{"name":"st"},"transform":[{"filter":"datum.p=='d'&&datum.c==2"}],"mark":{"type":"rule","color":"#555","strokeWidth":0.8},"encoding":{"x":{"datum":0,"axis":null},"y":{"field":"lo","type":"quantitative"},"y2":{"field":"hi"}}},
    {"data":{"name":"st"},"transform":[{"filter":"datum.p=='d'&&datum.c==2"}],"mark":{"type":"rect","fill":"transparent","stroke":"#555","strokeWidth":0.8},"encoding":{"x":{"datum":-0.073,"axis":null},"x2":{"datum":0.073},"y":{"field":"q1","type":"quantitative"},"y2":{"field":"q3"}}},
    {"data":{"name":"st"},"transform":[{"filter":"datum.p=='d'&&datum.c==2"}],"mark":{"type":"rule","color":"#555","strokeWidth":0.8},"encoding":{"x":{"datum":-0.073,"axis":null},"x2":{"datum":0.073},"y":{"field":"md","type":"quantitative"}}},
    {"data":{"name":"st"},"transform":[{"filter":"datum.p=='d'&&datum.c==2"}],"mark":{"type":"point","shape":"cross","filled":true,"color":"#2a9a2a","size":28,"opacity":1},"encoding":{"x":{"datum":0,"axis":null},"y":{"field":"mn","type":"quantitative"}}}
   ]}
  ]},
 {"width":48.4,"height":1,"data":{"values":[]},"mark":"point","encoding":{}},
 {"width":134,"height":148,"title":{"text":"e","dx":-37,"offset":20},
  "resolve":{"scale":{"x":"independent"},"axis":{"x":"independent"}},
  "layer":[
   {"data":{"name":"vio"},"transform":[{"filter":"datum.p=='e'&&datum.c==0"}],"mark":{"type":"area","orient":"horizontal","interpolate":"monotone","color":{"gradient":"linear","x1":0,"y1":1,"x2":0,"y2":0,"stops":[{"offset":0,"color":"#87cefa"},{"offset":0.3,"color":"#87cefa"},{"offset":1,"color":"#f2f6f8"}]}},
    "encoding":{"y":{"field":"v","type":"quantitative","scale":{"domain":[-0.037,0.768],"nice":false,"zero":false},"axis":{"values":[0,0.2,0.4,0.6],"tickCount":20,"format":".1f","title":"Genetic variance / expression variance","titlePadding":6}},"x":{"field":"w","type":"quantitative","stack":null,"scale":{"domain":[-2.517,0.485],"reverse":true,"nice":false,"zero":false},"axis":null}}},
   {"data":{"name":"vio"},"transform":[{"filter":"datum.p=='e'&&datum.c==1"}],"mark":{"type":"area","orient":"horizontal","interpolate":"monotone","color":{"gradient":"linear","x1":0,"y1":1,"x2":0,"y2":0,"stops":[{"offset":0,"color":"#2ea6ee"},{"offset":0.3,"color":"#2ea6ee"},{"offset":1,"color":"#eef4f8"}]}},
    "encoding":{"y":{"field":"v","type":"quantitative"},"x":{"field":"w","type":"quantitative","stack":null,"scale":{"domain":[-1.517,1.485],"reverse":true,"nice":false,"zero":false},"axis":null}}},
   {"data":{"name":"vio"},"transform":[{"filter":"datum.p=='e'&&datum.c==2"}],"mark":{"type":"area","orient":"horizontal","interpolate":"monotone","color":{"gradient":"linear","x1":0,"y1":1,"x2":0,"y2":0,"stops":[{"offset":0,"color":"#f5a650"},{"offset":0.3,"color":"#f5a650"},{"offset":1,"color":"#f7efe6"}]}},
    "encoding":{"y":{"field":"v","type":"quantitative"},"x":{"field":"w","type":"quantitative","stack":null,"scale":{"domain":[-0.517,2.485],"reverse":true,"nice":false,"zero":false},"axis":null}}},
   {"layer":[
    {"data":{"name":"vio"},"transform":[{"filter":"datum.p=='e'&&datum.c==0"}],"mark":{"type":"area","orient":"horizontal","interpolate":"monotone","color":{"gradient":"linear","x1":0,"y1":1,"x2":0,"y2":0,"stops":[{"offset":0,"color":"#87cefa"},{"offset":0.3,"color":"#87cefa"},{"offset":1,"color":"#f2f6f8"}]}},
     "encoding":{"y":{"field":"v","type":"quantitative"},"x":{"field":"w","type":"quantitative","stack":null,"scale":{"domain":[-0.485,2.517],"nice":false,"zero":false},"axis":{"values":[0,1,2],"labelExpr":"['Single','Multi_primary','Multi_secondary'][datum.value]","labelAngle":-10,"labelAlign":"center","labelBaseline":"top","labelFontSize":9,"title":null}}}},
    {"data":{"name":"st"},"transform":[{"filter":"datum.p=='e'&&datum.c==0"}],"mark":{"type":"rule","color":"#555","strokeWidth":0.8},"encoding":{"x":{"datum":0},"y":{"field":"lo","type":"quantitative"},"y2":{"field":"hi"}}},
    {"data":{"name":"st"},"transform":[{"filter":"datum.p=='e'&&datum.c==0"}],"mark":{"type":"rect","fill":"transparent","stroke":"#555","strokeWidth":0.8},"encoding":{"x":{"datum":-0.074},"x2":{"datum":0.074},"y":{"field":"q1","type":"quantitative"},"y2":{"field":"q3"}}},
    {"data":{"name":"st"},"transform":[{"filter":"datum.p=='e'&&datum.c==0"}],"mark":{"type":"rule","color":"#555","strokeWidth":0.8},"encoding":{"x":{"datum":-0.074},"x2":{"datum":0.074},"y":{"field":"md","type":"quantitative"}}},
    {"data":{"name":"st"},"transform":[{"filter":"datum.p=='e'&&datum.c==0"}],"mark":{"type":"point","shape":"cross","filled":true,"color":"#2a9a2a","size":28,"opacity":1},"encoding":{"x":{"datum":0},"y":{"field":"mn","type":"quantitative"}}},
    {"data":{"values":[{}]},"mark":{"type":"rule","color":"#555","strokeWidth":1},"encoding":{"x":{"datum":0},"x2":{"datum":1},"y":{"datum":0.791}}},
    {"data":{"values":[{}]},"mark":{"type":"rule","color":"#555","strokeWidth":1},"encoding":{"x":{"datum":0},"y":{"datum":0.791},"y2":{"datum":0.767}}},
    {"data":{"values":[{}]},"mark":{"type":"rule","color":"#555","strokeWidth":1},"encoding":{"x":{"datum":1},"y":{"datum":0.791},"y2":{"datum":0.767}}},
    {"data":{"values":[{}]},"mark":{"type":"text","text":"****","fontSize":8,"baseline":"bottom","dy":-1,"color":"#333"},"encoding":{"x":{"datum":0.5},"y":{"datum":0.791}}},
    {"data":{"values":[{}]},"mark":{"type":"rule","color":"#555","strokeWidth":1},"encoding":{"x":{"datum":1},"x2":{"datum":2},"y":{"datum":0.863}}},
    {"data":{"values":[{}]},"mark":{"type":"rule","color":"#555","strokeWidth":1},"encoding":{"x":{"datum":1},"y":{"datum":0.863},"y2":{"datum":0.84}}},
    {"data":{"values":[{}]},"mark":{"type":"rule","color":"#555","strokeWidth":1},"encoding":{"x":{"datum":2},"y":{"datum":0.863},"y2":{"datum":0.84}}},
    {"data":{"values":[{}]},"mark":{"type":"text","text":"****","fontSize":8,"baseline":"bottom","dy":-1,"color":"#333"},"encoding":{"x":{"datum":1.5},"y":{"datum":0.863}}}
   ]},
   {"layer":[
    {"data":{"name":"vio"},"transform":[{"filter":"datum.p=='e'&&datum.c==1"}],"mark":{"type":"area","orient":"horizontal","interpolate":"monotone","color":{"gradient":"linear","x1":0,"y1":1,"x2":0,"y2":0,"stops":[{"offset":0,"color":"#2ea6ee"},{"offset":0.3,"color":"#2ea6ee"},{"offset":1,"color":"#eef4f8"}]}},
     "encoding":{"y":{"field":"v","type":"quantitative"},"x":{"field":"w","type":"quantitative","stack":null,"scale":{"domain":[-1.485,1.517],"nice":false,"zero":false},"axis":null}}},
    {"data":{"name":"st"},"transform":[{"filter":"datum.p=='e'&&datum.c==1"}],"mark":{"type":"rule","color":"#555","strokeWidth":0.8},"encoding":{"x":{"datum":0,"axis":null},"y":{"field":"lo","type":"quantitative"},"y2":{"field":"hi"}}},
    {"data":{"name":"st"},"transform":[{"filter":"datum.p=='e'&&datum.c==1"}],"mark":{"type":"rect","fill":"transparent","stroke":"#555","strokeWidth":0.8},"encoding":{"x":{"datum":-0.074,"axis":null},"x2":{"datum":0.074},"y":{"field":"q1","type":"quantitative"},"y2":{"field":"q3"}}},
    {"data":{"name":"st"},"transform":[{"filter":"datum.p=='e'&&datum.c==1"}],"mark":{"type":"rule","color":"#555","strokeWidth":0.8},"encoding":{"x":{"datum":-0.074,"axis":null},"x2":{"datum":0.074},"y":{"field":"md","type":"quantitative"}}},
    {"data":{"name":"st"},"transform":[{"filter":"datum.p=='e'&&datum.c==1"}],"mark":{"type":"point","shape":"cross","filled":true,"color":"#2a9a2a","size":28,"opacity":1},"encoding":{"x":{"datum":0,"axis":null},"y":{"field":"mn","type":"quantitative"}}}
   ]},
   {"layer":[
    {"data":{"name":"vio"},"transform":[{"filter":"datum.p=='e'&&datum.c==2"}],"mark":{"type":"area","orient":"horizontal","interpolate":"monotone","color":{"gradient":"linear","x1":0,"y1":1,"x2":0,"y2":0,"stops":[{"offset":0,"color":"#f5a650"},{"offset":0.3,"color":"#f5a650"},{"offset":1,"color":"#f7efe6"}]}},
     "encoding":{"y":{"field":"v","type":"quantitative"},"x":{"field":"w","type":"quantitative","stack":null,"scale":{"domain":[-2.485,0.517],"nice":false,"zero":false},"axis":null}}},
    {"data":{"name":"st"},"transform":[{"filter":"datum.p=='e'&&datum.c==2"}],"mark":{"type":"rule","color":"#555","strokeWidth":0.8},"encoding":{"x":{"datum":0,"axis":null},"y":{"field":"lo","type":"quantitative"},"y2":{"field":"hi"}}},
    {"data":{"name":"st"},"transform":[{"filter":"datum.p=='e'&&datum.c==2"}],"mark":{"type":"rect","fill":"transparent","stroke":"#555","strokeWidth":0.8},"encoding":{"x":{"datum":-0.074,"axis":null},"x2":{"datum":0.074},"y":{"field":"q1","type":"quantitative"},"y2":{"field":"q3"}}},
    {"data":{"name":"st"},"transform":[{"filter":"datum.p=='e'&&datum.c==2"}],"mark":{"type":"rule","color":"#555","strokeWidth":0.8},"encoding":{"x":{"datum":-0.074,"axis":null},"x2":{"datum":0.074},"y":{"field":"md","type":"quantitative"}}},
    {"data":{"name":"st"},"transform":[{"filter":"datum.p=='e'&&datum.c==2"}],"mark":{"type":"point","shape":"cross","filled":true,"color":"#2a9a2a","size":28,"opacity":1},"encoding":{"x":{"datum":0,"axis":null},"y":{"field":"mn","type":"quantitative"}}}
   ]}
  ]},
 {"width":47.6,"height":1,"data":{"values":[]},"mark":"point","encoding":{}},
 {"width":114,"height":148,"title":{"text":"f","dx":-31,"offset":27.5},
  "resolve":{"scale":{"x":"independent"},"axis":{"x":"independent"}},
  "layer":[
   {"data":{"name":"vio"},"transform":[{"filter":"datum.p=='f'&&datum.c==0"}],"mark":{"type":"area","orient":"horizontal","interpolate":"monotone","color":"#87cefa"},
    "encoding":{"y":{"field":"v","type":"quantitative","scale":{"domain":[-0.041,1.063],"nice":false,"zero":false},"axis":{"values":[0,0.2,0.4,0.6,0.8,1],"tickCount":20,"format":".1f","title":"Tolerant to loss-of-function mutations (1-pLI)","titlePadding":2}},"x":{"field":"w","type":"quantitative","stack":null,"scale":{"domain":[-1.49,0.496],"reverse":true,"nice":false,"zero":false},"axis":null}}},
   {"data":{"name":"vio"},"transform":[{"filter":"datum.p=='f'&&datum.c==1"}],"mark":{"type":"area","orient":"horizontal","interpolate":"monotone","color":"#f5a650"},
    "encoding":{"y":{"field":"v","type":"quantitative"},"x":{"field":"w","type":"quantitative","stack":null,"scale":{"domain":[-0.49,1.496],"reverse":true,"nice":false,"zero":false},"axis":null}}},
   {"layer":[
    {"data":{"name":"vio"},"transform":[{"filter":"datum.p=='f'&&datum.c==0"}],"mark":{"type":"area","orient":"horizontal","interpolate":"monotone","color":"#87cefa"},
     "encoding":{"y":{"field":"v","type":"quantitative"},"x":{"field":"w","type":"quantitative","stack":null,"scale":{"domain":[-0.496,1.49],"nice":false,"zero":false},"axis":{"values":[0,1],"labelExpr":"datum.value==0?'Single':'Multiple'","labelFontSize":9,"title":null}}}},
    {"data":{"name":"st"},"transform":[{"filter":"datum.p=='f'&&datum.c==0"}],"mark":{"type":"rule","color":"#555","strokeWidth":0.8},"encoding":{"x":{"datum":0},"y":{"field":"lo","type":"quantitative"},"y2":{"field":"hi"}}},
    {"data":{"name":"st"},"transform":[{"filter":"datum.p=='f'&&datum.c==0"}],"mark":{"type":"rect","fill":"transparent","stroke":"#bbb","strokeWidth":1},"encoding":{"x":{"datum":-0.07},"x2":{"datum":0.07},"y":{"field":"q1","type":"quantitative"},"y2":{"field":"q3"}}},
    {"data":{"name":"st"},"transform":[{"filter":"datum.p=='f'&&datum.c==0"}],"mark":{"type":"rule","color":"#555","strokeWidth":0.8},"encoding":{"x":{"datum":-0.07},"x2":{"datum":0.07},"y":{"field":"md","type":"quantitative"}}},
    {"data":{"name":"st"},"transform":[{"filter":"datum.p=='f'&&datum.c==0"}],"mark":{"type":"point","shape":"cross","filled":true,"color":"#2a9a2a","size":28,"opacity":1},"encoding":{"x":{"datum":0},"y":{"field":"mn","type":"quantitative"}}},
    {"data":{"values":[{}]},"mark":{"type":"rule","color":"#555","strokeWidth":1},"encoding":{"x":{"datum":0},"x2":{"datum":1},"y":{"datum":1.08}}},
    {"data":{"values":[{}]},"mark":{"type":"rule","color":"#555","strokeWidth":1},"encoding":{"x":{"datum":0},"y":{"datum":1.08},"y2":{"datum":1.05}}},
    {"data":{"values":[{}]},"mark":{"type":"rule","color":"#555","strokeWidth":1},"encoding":{"x":{"datum":1},"y":{"datum":1.08},"y2":{"datum":1.05}}},
    {"data":{"values":[{}]},"mark":{"type":"text","text":"****","fontSize":8,"baseline":"bottom","dy":-1,"color":"#333"},"encoding":{"x":{"datum":0.5},"y":{"datum":1.08}}}
   ]},
   {"layer":[
    {"data":{"name":"vio"},"transform":[{"filter":"datum.p=='f'&&datum.c==1"}],"mark":{"type":"area","orient":"horizontal","interpolate":"monotone","color":"#f5a650"},
     "encoding":{"y":{"field":"v","type":"quantitative"},"x":{"field":"w","type":"quantitative","stack":null,"scale":{"domain":[-1.496,0.49],"nice":false,"zero":false},"axis":null}}},
    {"data":{"name":"st"},"transform":[{"filter":"datum.p=='f'&&datum.c==1"}],"mark":{"type":"rule","color":"#555","strokeWidth":0.8},"encoding":{"x":{"datum":0,"axis":null},"y":{"field":"lo","type":"quantitative"},"y2":{"field":"hi"}}},
    {"data":{"name":"st"},"transform":[{"filter":"datum.p=='f'&&datum.c==1"}],"mark":{"type":"rect","fill":"transparent","stroke":"#555","strokeWidth":0.8},"encoding":{"x":{"datum":-0.07,"axis":null},"x2":{"datum":0.07},"y":{"field":"q1","type":"quantitative"},"y2":{"field":"q3"}}},
    {"data":{"name":"st"},"transform":[{"filter":"datum.p=='f'&&datum.c==1"}],"mark":{"type":"rule","color":"#555","strokeWidth":0.8},"encoding":{"x":{"datum":-0.07,"axis":null},"x2":{"datum":0.07},"y":{"field":"md","type":"quantitative"}}},
    {"data":{"name":"st"},"transform":[{"filter":"datum.p=='f'&&datum.c==1"}],"mark":{"type":"point","shape":"cross","filled":true,"color":"#2a9a2a","size":28,"opacity":1},"encoding":{"x":{"datum":0,"axis":null},"y":{"field":"mn","type":"quantitative"}}}
   ]}
  ]},
 {"width":38.4,"height":1,"data":{"values":[]},"mark":"point","encoding":{}},
 {"width":114,"height":148,"title":{"text":"g","dx":-31,"offset":23.5},
  "resolve":{"scale":{"x":"independent"},"axis":{"x":"independent"}},
  "layer":[
   {"data":{"name":"vio"},"transform":[{"filter":"datum.p=='g'&&datum.c==0"}],"mark":{"type":"area","orient":"horizontal","interpolate":"monotone","color":{"gradient":"linear","x1":0,"y1":1,"x2":0,"y2":0,"stops":[{"offset":0,"color":"#87cefa"},{"offset":0.5,"color":"#87cefa"},{"offset":1,"color":"#f2f6f8"}]}},
    "encoding":{"y":{"field":"v","type":"quantitative","scale":{"domain":[-0.125,0.911],"nice":false,"zero":false},"axis":{"values":[0,0.2,0.4,0.6,0.8],"tickCount":20,"format":".1f","title":"Heritability"}},"x":{"field":"w","type":"quantitative","stack":null,"scale":{"domain":[-1.49,0.478],"reverse":true,"nice":false,"zero":false},"axis":null}}},
   {"data":{"name":"vio"},"transform":[{"filter":"datum.p=='g'&&datum.c==1"}],"mark":{"type":"area","orient":"horizontal","interpolate":"monotone","color":"#f5a650"},
    "encoding":{"y":{"field":"v","type":"quantitative"},"x":{"field":"w","type":"quantitative","stack":null,"scale":{"domain":[-0.49,1.478],"reverse":true,"nice":false,"zero":false},"axis":null}}},
   {"layer":[
    {"data":{"name":"vio"},"transform":[{"filter":"datum.p=='g'&&datum.c==0"}],"mark":{"type":"area","orient":"horizontal","interpolate":"monotone","color":{"gradient":"linear","x1":0,"y1":1,"x2":0,"y2":0,"stops":[{"offset":0,"color":"#87cefa"},{"offset":0.5,"color":"#87cefa"},{"offset":1,"color":"#f2f6f8"}]}},
     "encoding":{"y":{"field":"v","type":"quantitative"},"x":{"field":"w","type":"quantitative","stack":null,"scale":{"domain":[-0.478,1.49],"nice":false,"zero":false},"axis":{"values":[0,1],"labelExpr":"datum.value==0?'Single':'Multiple'","labelFontSize":9,"title":null}}}},
    {"data":{"name":"st"},"transform":[{"filter":"datum.p=='g'&&datum.c==0"}],"mark":{"type":"rule","color":"#555","strokeWidth":0.8},"encoding":{"x":{"datum":0},"y":{"field":"lo","type":"quantitative"},"y2":{"field":"hi"}}},
    {"data":{"name":"st"},"transform":[{"filter":"datum.p=='g'&&datum.c==0"}],"mark":{"type":"rect","fill":"transparent","stroke":"#555","strokeWidth":0.8},"encoding":{"x":{"datum":-0.08},"x2":{"datum":0.08},"y":{"field":"q1","type":"quantitative"},"y2":{"field":"q3"}}},
    {"data":{"name":"st"},"transform":[{"filter":"datum.p=='g'&&datum.c==0"}],"mark":{"type":"rule","color":"#555","strokeWidth":0.8},"encoding":{"x":{"datum":-0.08},"x2":{"datum":0.08},"y":{"field":"md","type":"quantitative"}}},
    {"data":{"name":"st"},"transform":[{"filter":"datum.p=='g'&&datum.c==0"}],"mark":{"type":"point","shape":"cross","filled":true,"color":"#2a9a2a","size":28,"opacity":1},"encoding":{"x":{"datum":0},"y":{"field":"mn","type":"quantitative"}}},
    {"data":{"values":[{}]},"mark":{"type":"rule","color":"#555","strokeWidth":1},"encoding":{"x":{"datum":0},"x2":{"datum":1},"y":{"datum":0.934}}},
    {"data":{"values":[{}]},"mark":{"type":"rule","color":"#555","strokeWidth":1},"encoding":{"x":{"datum":0},"y":{"datum":0.934},"y2":{"datum":0.903}}},
    {"data":{"values":[{}]},"mark":{"type":"rule","color":"#555","strokeWidth":1},"encoding":{"x":{"datum":1},"y":{"datum":0.934},"y2":{"datum":0.903}}},
    {"data":{"values":[{}]},"mark":{"type":"text","text":"****","fontSize":8,"baseline":"bottom","dy":-1,"color":"#333"},"encoding":{"x":{"datum":0.5},"y":{"datum":0.934}}}
   ]},
   {"layer":[
    {"data":{"name":"vio"},"transform":[{"filter":"datum.p=='g'&&datum.c==1"}],"mark":{"type":"area","orient":"horizontal","interpolate":"monotone","color":"#f5a650"},
     "encoding":{"y":{"field":"v","type":"quantitative"},"x":{"field":"w","type":"quantitative","stack":null,"scale":{"domain":[-1.478,0.49],"nice":false,"zero":false},"axis":null}}},
    {"data":{"name":"st"},"transform":[{"filter":"datum.p=='g'&&datum.c==1"}],"mark":{"type":"rule","color":"#555","strokeWidth":0.8},"encoding":{"x":{"datum":0,"axis":null},"y":{"field":"lo","type":"quantitative"},"y2":{"field":"hi"}}},
    {"data":{"name":"st"},"transform":[{"filter":"datum.p=='g'&&datum.c==1"}],"mark":{"type":"rect","fill":"transparent","stroke":"#555","strokeWidth":0.8},"encoding":{"x":{"datum":-0.08,"axis":null},"x2":{"datum":0.08},"y":{"field":"q1","type":"quantitative"},"y2":{"field":"q3"}}},
    {"data":{"name":"st"},"transform":[{"filter":"datum.p=='g'&&datum.c==1"}],"mark":{"type":"rule","color":"#555","strokeWidth":0.8},"encoding":{"x":{"datum":-0.08,"axis":null},"x2":{"datum":0.08},"y":{"field":"md","type":"quantitative"}}},
    {"data":{"name":"st"},"transform":[{"filter":"datum.p=='g'&&datum.c==1"}],"mark":{"type":"point","shape":"cross","filled":true,"color":"#2a9a2a","size":28,"opacity":1},"encoding":{"x":{"datum":0,"axis":null},"y":{"field":"mn","type":"quantitative"}}}
   ]}
  ]}
],"spacing":0,"bounds":"flush"}
]
}
